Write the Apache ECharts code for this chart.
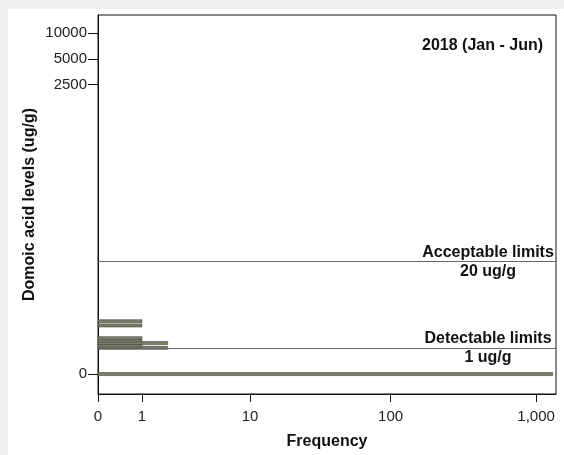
<!DOCTYPE html>
<html>
<head>
<meta charset="utf-8">
<style>html,body{margin:0;padding:0;background:#fff}#c{width:564px;height:455px}</style>
<script src="https://cdn.jsdelivr.net/npm/echarts@6/dist/echarts.min.js"></script>
</head>
<body>
<div id="c"></div>
<script>
// ---- data ----
const title = '2018 (Jan - Jun)';
const levels = [0, 1.03, 1.16, 1.31, 1.47, 1.64, 2.72, 3.17];      // domoic acid level (ug/g)
const frequencies = [1300, 2, 1, 2, 1, 1, 1, 1];                   // count at each level
const xTickCounts = [0, 1, 10, 100, 1000];
const xTickLabels = ['0', '1', '10', '100', '1,000'];
const yTickValues = [0, 2500, 5000, 10000];
const yTickLabels = ['0', '2500', '5000', '10000'];
const limitValues = [20, 1];
const limitNames = ['Acceptable limits', 'Detectable limits'];
const limitUnits = ['20 ug/g', '1 ug/g'];

// log10(v+1) transform used by both axes
const tf = v => Math.log10(v + 1);
function nearestLabel(v, vals, labels) {
  let best = 0, d = Infinity;
  vals.forEach((t, i) => { const dd = Math.abs(tf(t) - v); if (dd < d) { d = dd; best = i; } });
  return d < 1e-6 ? labels[best] : '';
}

const FONT = 'Liberation Sans, Arial, sans-serif';
const chart = echarts.init(document.getElementById('c'));
chart.setOption({
  animation: false,
  backgroundColor: '#ffffff',
  textStyle: { fontFamily: FONT },
  graphic: [
    { type: 'rect', z: -100, shape: { x: 0, y: 0, width: 8, height: 455 }, style: { fill: '#f0f0f0' }, silent: true },
    { type: 'rect', z: -100, shape: { x: 0, y: 0, width: 564, height: 9 }, style: { fill: '#f0f0f0' }, silent: true }
  ],
  title: {
    text: title, right: 16, top: 33,
    textStyle: { fontFamily: FONT, fontSize: 16, fontWeight: 'bold', color: '#111' }
  },
  grid: { left: 98, right: 8, top: 15, bottom: 60, show: true, borderColor: '#111', borderWidth: 1, backgroundColor: 'transparent' },
  xAxis: {
    type: 'value', min: 0, max: 3.137,
    name: 'Frequency', nameLocation: 'middle', nameGap: 40, nameMoveOverlap: false,
    nameTextStyle: { fontFamily: FONT, fontSize: 16, fontWeight: 'bold', color: '#111' },
    axisLine: { show: true, onZero: false, lineStyle: { color: '#111' } },
    splitLine: { show: false },
    axisTick: { show: true, inside: false, length: 8, lineStyle: { color: '#111' }, customValues: xTickCounts.map(tf) },
    axisLabel: { fontFamily: FONT, fontSize: 15, color: '#222', margin: 15,
      customValues: xTickCounts.map(tf),
      formatter: v => nearestLabel(v, xTickCounts, xTickLabels) }
  },
  yAxis: {
    type: 'value', min: -0.234, max: 4.215,
    name: 'Domoic acid levels (ug/g)', nameLocation: 'middle', nameGap: 60, nameRotate: 90, nameMoveOverlap: false,
    nameTextStyle: { fontFamily: FONT, fontSize: 16, fontWeight: 'bold', color: '#111' },
    axisLine: { show: true, onZero: false, lineStyle: { color: '#111' } },
    splitLine: { show: false },
    axisTick: { show: true, inside: false, length: 10, lineStyle: { color: '#111' }, customValues: yTickValues.map(tf) },
    axisLabel: { fontFamily: FONT, fontSize: 15, color: '#222', margin: 11,
      customValues: yTickValues.map(tf),
      formatter: v => nearestLabel(v, yTickValues, yTickLabels) }
  },
  series: [
    {
      type: 'custom',
      data: levels.map((l, i) => [tf(frequencies[i]), tf(l)]),
      renderItem: (params, api) => {
        const y = api.value(1);
        const p0 = api.coord([0, y]);
        const p1 = api.coord([api.value(0), y]);
        return {
          type: 'rect',
          shape: { x: p0[0], y: p0[1] - 1.5, width: p1[0] - p0[0], height: 3 },
          style: { fill: '#7a7d68', stroke: '#45473b', lineWidth: 0.6 }
        };
      }
    },
    {
      type: 'line', data: [],
      markLine: {
        silent: true, symbol: 'none',
        lineStyle: { color: '#666', width: 1, type: 'solid' },
        data: limitValues.map((v, i) => ({
          yAxis: tf(v),
          label: {
            show: true, position: 'insideEnd', distance: 2,
            formatter: '{t|' + limitNames[i] + '}\n{t|' + limitUnits[i] + '}',
            rich: { t: { fontFamily: FONT, fontSize: 16, fontWeight: 'bold', color: '#111', width: 132, align: 'center', lineHeight: 19 } }
          }
        }))
      }
    }
  ]
});
</script>
</body>
</html>
